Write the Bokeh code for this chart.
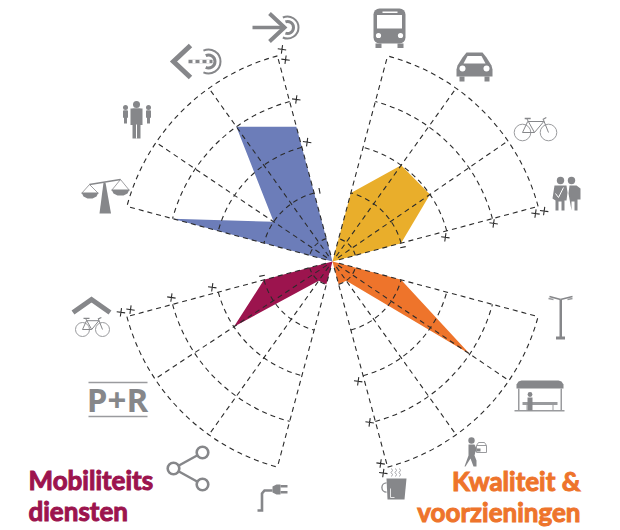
import math
from bokeh.plotting import figure
from bokeh.embed import file_html
from bokeh.resources import INLINE
from bokeh.core.properties import value as val

# ---------- data ----------
blue_angles = [285, 304, 324.5, 345]
blue_values = [3.5, 1.5, 3.5, 2.95]
yellow_angles = [15, 35.5, 55.5, 75]
yellow_values = [1.5, 2.5, 2.5, 1.5]
orange_angles = [105, 124, 144.5, 165]
orange_values = [1.5, 3.5, 0.5, 0.5]
crimson_angles = [195, 215.5, 236.5, 255]
crimson_values = [0.5, 0.5, 2.5, 1.5]
ring_levels = [0.5, 1.5, 2.5, 3.5, 4.5]
title_crimson = ["Mobiliteits", "diensten"]
title_orange = ["Kwaliteit &", "voorzieningen"]

# plus marks: (compass angle, radius in score units)
ticks_a = [346.6, 346.9, 347.4, 348.0]
ticks_ar = [4.61, 4.38, 3.51, 2.58]
ticks_b = [77.9, 76.7, 76.7, 76.6]
ticks_br = [2.44, 3.5, 4.41, 4.6]
ticks_c = [167.9, 167.0, 166.6, 166.5]
ticks_cr = [2.59, 3.49, 4.39, 4.6]
ticks_d = [256.5, 256.6, 257.4, 257.9]
ticks_dr = [4.6, 4.39, 3.49, 2.6]
# short dashes left on the same tick axes, near level 1.5
dash_angles = [349.6, 78.5, 258.5]

UNIT = 47.3
CX, CY = 332, 261
W, H = 620, 530
BLUE, YELLOW, ORANGE, CRIMSON = "#6C7DB9", "#E9AE2B", "#EE742B", "#9C144E"
GRAY, LIGHT = "#86878A", "#9A9B9E"
DASH = "5 4"
INK = "#2b2b2b"

p = figure(width=W, height=H, output_backend="svg", toolbar_location=None,
           x_range=(-CX, W - CX), y_range=(CY - H, CY),
           x_axis_type=None, y_axis_type=None, min_border=0, outline_line_color=None)
p.grid.visible = False


def polar(ang, v):
    t = math.radians(ang)
    r = v * UNIT
    return r * math.sin(t), r * math.cos(t)


def X(xs):
    return [x - CX for x in xs]


def Y(ys):
    return [CY - y for y in ys]


def fill(xs, ys, c=GRAY):
    p.patch(X(xs), Y(ys), fill_color=c, line_color=None)


def stroke(xs, ys, w=2.0, c=GRAY, cap="butt", join="miter"):
    p.line(X(xs), Y(ys), line_color=c, line_width=w, line_cap=cap, line_join=join)


def disc(x, y, r, c=GRAY):
    p.circle([x - CX], [CY - y], radius=r, fill_color=c, line_color=None)


def ring(x, y, r, w=1.0, c=GRAY):
    p.circle([x - CX], [CY - y], radius=r, fill_color=None, line_color=c, line_width=w)


def carc(x, y, r, a0, a1, w=2.0, c=GRAY):
    p.arc([x - CX], [CY - y], radius=r, start_angle=math.radians(a0), end_angle=math.radians(a1),
          line_color=c, line_width=w)


def rect(x0, y0, x1, y1, c=GRAY):
    fill([x0, x1, x1, x0], [y0, y0, y1, y1], c)


# ---------- filled sectors ----------
for angs, vals, col in [(blue_angles, blue_values, BLUE), (yellow_angles, yellow_values, YELLOW),
                        (orange_angles, orange_values, ORANGE), (crimson_angles, crimson_values, CRIMSON)]:
    pts = [polar(a, v) for a, v in zip(angs, vals)]
    p.patch([0] + [q[0] for q in pts], [0] + [q[1] for q in pts], fill_color=col, line_color=None)

# ---------- web ----------
for angs in [blue_angles, yellow_angles, orange_angles, crimson_angles]:
    for a in angs:
        sx, sy = polar(a, 0.14)
        ex, ey = polar(a, ring_levels[-1])
        p.line([sx, ex], [sy, ey], line_color=INK, line_width=1.1, line_dash=DASH)
    for lv in ring_levels:
        p.arc([0], [0], radius=lv * UNIT,
              start_angle=math.radians(90 - angs[-1]), end_angle=math.radians(90 - angs[0]),
              line_color=INK, line_width=1.1, line_dash=DASH)

for angs, rads in [(ticks_a, ticks_ar), (ticks_b, ticks_br), (ticks_c, ticks_cr), (ticks_d, ticks_dr)]:
    pts = [polar(a, v) for a, v in zip(angs, rads)]
    p.scatter([q[0] for q in pts], [q[1] for q in pts], marker="cross", size=8.5, line_color=INK,
              line_width=1.1, angle=math.radians(-8))
for a in dash_angles:
    q0, q1 = polar(a, 1.46), polar(a, 1.58)
    p.line([q0[0], q1[0]], [q0[1], q1[1]], line_color=INK, line_width=1.1)

# ---------- icons (decoration) ----------
stroke([252, 283], [27, 27], 3.4)
stroke([269, 284, 269], [13, 27, 41], 4.0)
carc(287, 27, 11, -115, 115, 2.0)
carc(287, 27, 6, -110, 110, 3.0)
stroke([190, 173, 190], [45, 61, 77], 5.0)
stroke([188, 212], [61, 61], 3.4)
p.line(X([188, 212]), Y([61, 61]), line_color="white", line_width=3.6, line_dash="3 4", line_dash_offset=3)
carc(208, 61, 12, -115, 115, 2.0)
carc(208, 61, 6.5, -115, 115, 3.0)
for px, hy, hr, w, ya, yb in [(125, 107, 2.5, 5, 110, 123), (148, 107, 2.5, 5, 110, 123), (136, 104, 3.5, 12, 108, 138)]:
    disc(px, hy, hr)
    rect(px - w / 2, ya, px + w / 2, ya + (yb - ya) * 0.55)
    rect(px - w / 2 + (1 if w < 8 else 2), ya, px + w / 2 - (1 if w < 8 else 2), yb)
    if w > 8:
        rect(px - 0.5, ya + 16, px + 0.5, yb, "white")
stroke([89, 120], [184, 179], 1.4)
fill([103, 105, 110.5, 99], [182, 182, 213, 213])
stroke([81, 89, 98], [193, 184, 193], 0.8)
stroke([111, 120, 129], [190, 179, 190], 0.8)
fill([81, 98, 96, 92, 87, 83], [192, 192, 196, 198, 198, 196])
fill([111, 129, 127, 123, 117, 113], [189, 189, 193, 195, 195, 193])
p.quad(left=[373 - CX], right=[405 - CX], top=[CY - 8], bottom=[CY - 43], fill_color=GRAY, line_color=None, border_radius=6)
rect(376.5, 14.5, 401.5, 28, "white")
rect(382, 11, 397, 12.5, "white")
disc(378, 35, 2.6, "white")
disc(400, 35, 2.6, "white")
rect(375, 43, 381, 47.5)
rect(397, 43, 403, 47.5)
fill([457, 462, 466, 482, 486, 491, 492, 492, 456, 456], [65, 57, 52, 52, 57, 65, 69, 76, 76, 69])
fill([463, 467, 481, 485], [63, 55.5, 55.5, 63], "white")
disc(462, 68, 3, "white")
disc(486, 68, 3, "white")
rect(459, 76, 464, 81)
rect(484, 76, 489, 81)
def bike(x0, x1, y, r, k=1.0):
    ring(x0, y, r, 1.0, LIGHT)
    ring(x1, y, r, 1.0, LIGHT)
    m = x0 + (x1 - x0) * 0.46
    sx = x0 + (x1 - x0) * 0.2
    hx = x0 + (x1 - x0) * 0.82
    top = y - 11 * k
    stroke([x0, m, hx, sx, x0], [y, y, top, top, y], 1.0, GRAY)
    stroke([sx - 1, m], [top - 3 * k, y], 1.0, GRAY)
    stroke([hx - 0.5, x1], [top - 2 * k, y], 1.0, GRAY)
    stroke([sx - 3, sx + 3], [top - 3 * k, top - 3 * k], 1.3, GRAY)
    stroke([hx - 1, hx + 2.5], [top - 2 * k, top - 4 * k], 1.2, GRAY)
bike(522, 548, 132, 8.3)
disc(560, 180, 3.7)
disc(571, 180, 3.7)
fill([554, 566, 567, 566, 564, 564, 561, 561, 558, 558, 555, 555, 552], [185, 185, 192, 200, 200, 210, 210, 201, 201, 210, 210, 200, 198])
stroke([555, 558, 563], [193, 197, 187], 1.0, "white")
fill([569, 576, 580, 580, 577, 577, 574, 574, 571, 571, 568], [185, 185, 188, 199, 199, 210, 210, 201, 201, 210, 193])
rect(559, 299, 561.5, 337)
rect(555.5, 336, 564.5, 339)
stroke([560, 549], [299, 296], 1.8)
stroke([560, 572], [299, 296], 1.8)
stroke([548, 553], [298, 299], 1.4, LIGHT)
stroke([567, 572], [299, 298], 1.4, LIGHT)
fill([516, 516, 518, 521, 558, 561, 563, 563], [388, 384, 381, 380, 380, 381, 384, 388])
rect(517.5, 388, 519, 410, LIGHT)
rect(560, 388, 561.5, 410, LIGHT)
rect(514, 409.5, 564, 411, LIGHT)
rect(522, 401.5, 557, 404.5, LIGHT)
rect(526, 404.5, 527, 410, LIGHT)
rect(552, 404.5, 553, 410, LIGHT)
disc(529.5, 394, 2.4)
rect(527, 397, 532, 410)
disc(471, 440, 3.2)
fill([468, 474, 476, 480, 480, 475, 474, 476, 476, 473, 470, 465, 464, 468], [444, 444, 448, 448, 451, 451, 455, 460, 466, 466, 458, 466, 466, 455])
for xs, ys in [([476, 486, 486, 476, 476], [445, 445, 452, 452, 445]), ([476, 478, 484, 486], [445, 442, 442, 445])]:
    stroke(xs, ys, 1.0, LIGHT)
fill([386, 406, 404, 387], [478, 478, 499, 499])
stroke([390, 390, 394], [488, 497, 497], 0.8, "white")
carc(386, 487, 4.6, 90, 270, 1.3)
for sx in [391, 395, 399]:
    stroke([sx, sx + 1, sx - 0.5, sx + 1, sx], [468, 470, 472, 474, 476], 0.9, LIGHT)
stroke([257, 261.5, 261.5, 264, 272], [510, 510, 493, 490, 490], 2.6)
fill([272, 276, 280, 280, 276, 272], [486, 484, 484, 494, 494, 492])
rect(280, 484.5, 287, 487)
rect(280, 490.5, 287, 493)
stroke([202, 173, 202], [452, 468, 484], 2.4)
for sx, sy in [(202, 452), (173, 468), (202, 484)]:
    p.circle([sx - CX], [CY - sy], radius=5.8, fill_color="white", line_color=GRAY, line_width=2.6)
rect(88, 381.3, 147, 382.7, LIGHT)
rect(88, 415.3, 147, 416.7, LIGHT)
p.text([117 - CX], [CY - 399], text=["P+R"], text_color=GRAY, text_font=val("Open Sans"), text_font_style="bold",
       text_font_size="33px", text_align="center", text_baseline="middle")
stroke([72.5, 91, 109.5], [312, 299, 312], 5)
bike(82, 102, 329, 7, 0.8)

p.text([28 - CX, 28 - CX], [CY - 479.5, CY - 510.5], text=title_crimson, text_color=CRIMSON, text_font=val("Lato"),
       text_font_style="bold", text_font_size="26px", text_align="left", text_baseline="middle",
       text_outline_color=CRIMSON)
p.text([580 - CX, 580 - CX], [CY - 480.5, CY - 511.5], text=title_orange, text_color=ORANGE, text_font=val("Lato"),
       text_font_style="bold", text_font_size="26px", text_align="right", text_baseline="middle",
       text_outline_color=ORANGE)

open("out.html", "w").write(file_html(p, INLINE))
